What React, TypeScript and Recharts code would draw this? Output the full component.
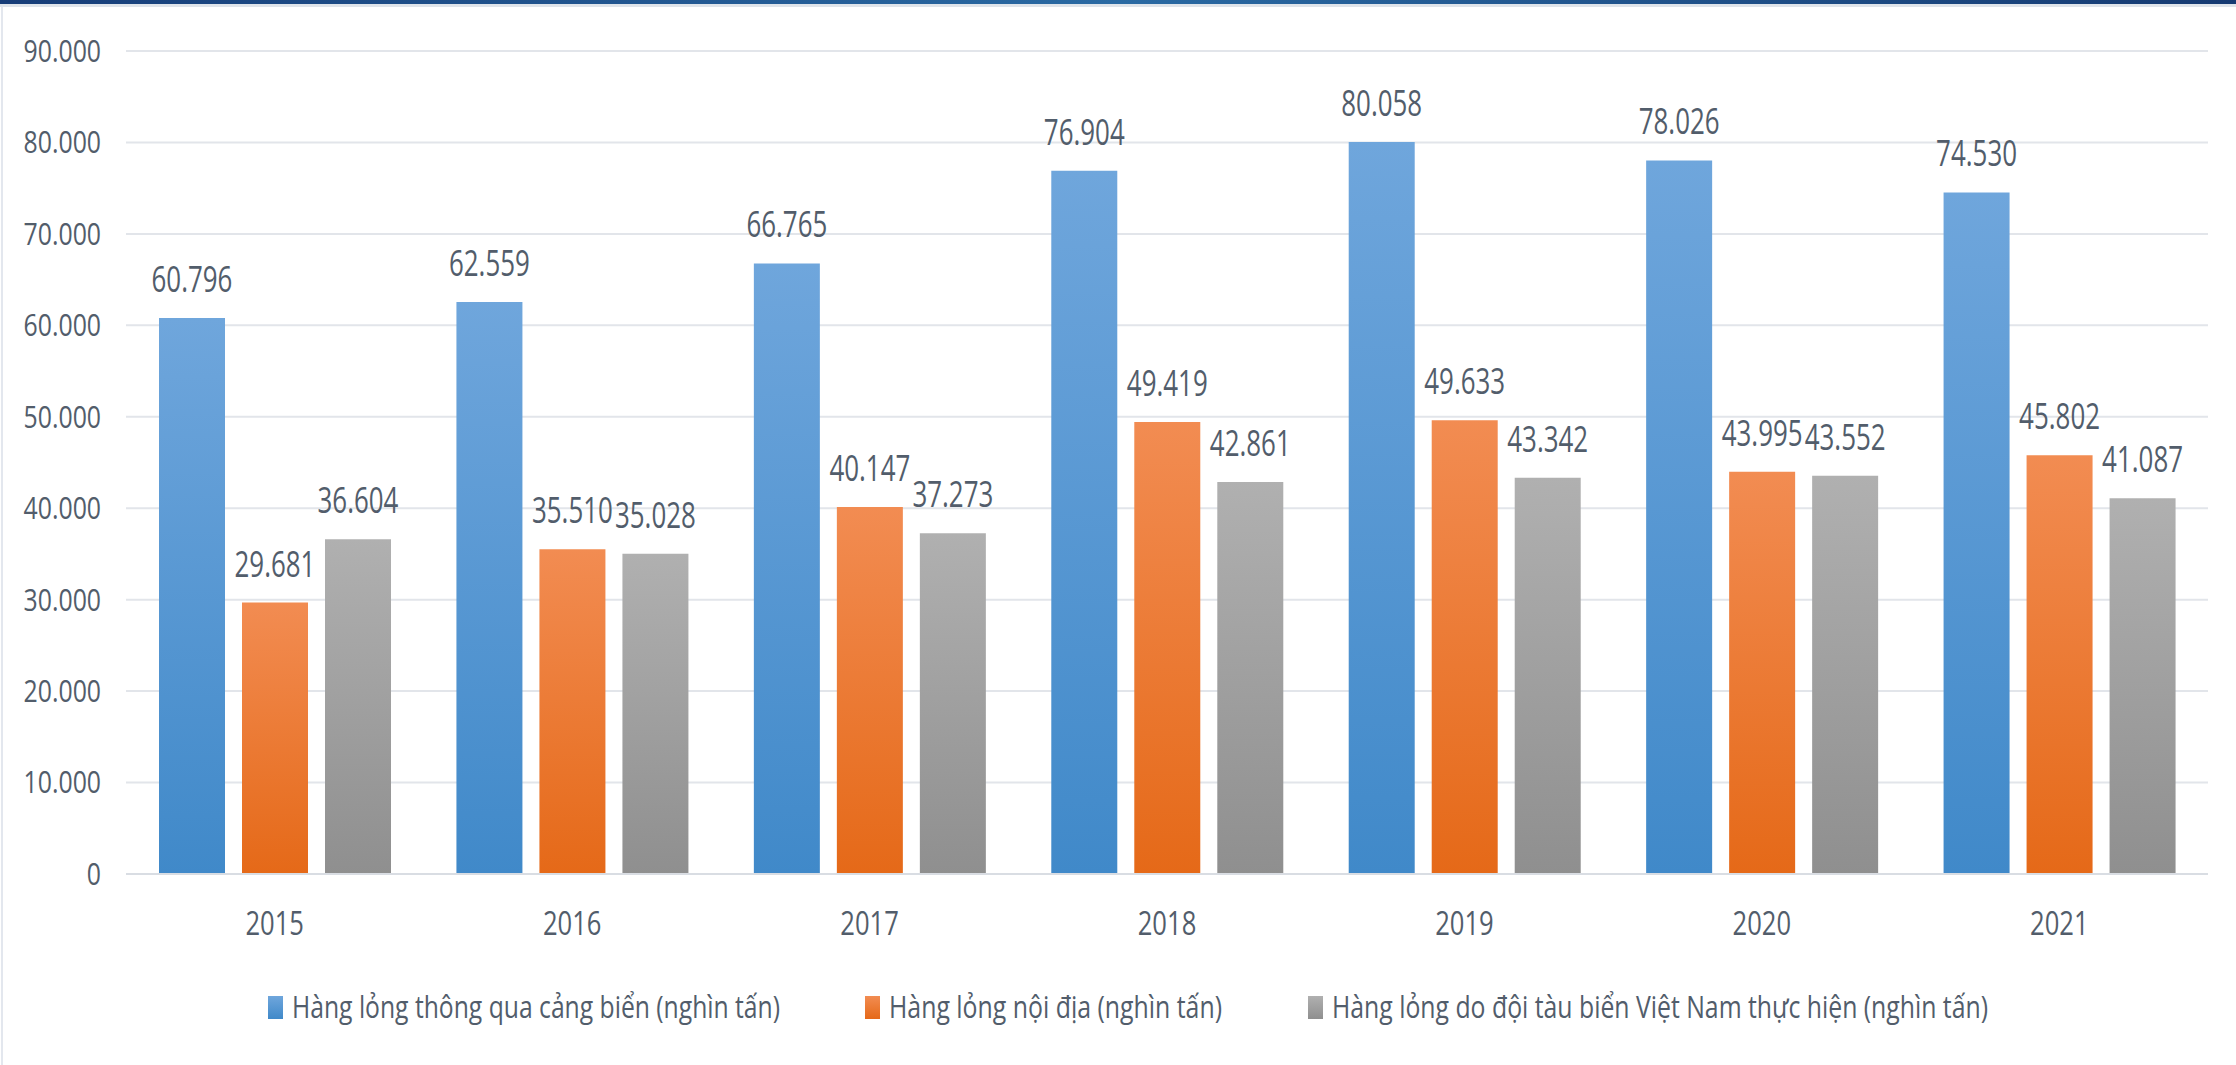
import React from 'react';
import { BarChart, Bar, XAxis, YAxis, CartesianGrid, LabelList } from 'recharts';

const years = ['2015', '2016', '2017', '2018', '2019', '2020', '2021'];
const quaCangBien = [60796, 62559, 66765, 76904, 80058, 78026, 74530];
const noiDia = [29681, 35510, 40147, 49419, 49633, 43995, 45802];
const doiTauVN = [36604, 35028, 37273, 42861, 43342, 43552, 41087];
const yTicks = [0, 10000, 20000, 30000, 40000, 50000, 60000, 70000, 80000, 90000];

const series = [
  { key: 'quaCangBien', name: 'Hàng lỏng thông qua cảng biển (nghìn tấn)', top: '#6fa6dc', bottom: '#4089c9', legendX: 268, textLen: 488 },
  { key: 'noiDia', name: 'Hàng lỏng nội địa (nghìn tấn)', top: '#f28c52', bottom: '#e56918', legendX: 865, textLen: 333 },
  { key: 'doiTauVN', name: 'Hàng lỏng do đội tàu biển Việt Nam thực hiện (nghìn tấn)', top: '#b0b0b0', bottom: '#8f8f8f', legendX: 1308, textLen: 656 },
];

const data = years.map((year, i) => ({
  year,
  quaCangBien: quaCangBien[i],
  noiDia: noiDia[i],
  doiTauVN: doiTauVN[i],
}));

const FONT = '"Open Sans", "Noto Sans", sans-serif';
const TEXT = '#525d6b';

// 60796 -> "60.796"
const fmt = (v: any) => String(Math.round(Number(v))).replace(/\B(?=(\d{3})+(?!\d))/g, '.');

// the source font is a narrow one, so squeeze horizontally
function NarrowText({ x, y, anchor = 'middle', dy = '0', size = 31, sx = 0.8, children }: any) {
  return (
    <text
      transform={`translate(${x},${y}) scale(${sx},1)`}
      textAnchor={anchor}
      dy={dy}
      fill={TEXT}
      fontSize={size}
      fontFamily={FONT}
    >
      {children}
    </text>
  );
}

const YTick = ({ x, y, payload }: any) => (
  <NarrowText x={x} y={y} anchor="end" dy="0.35em">{fmt(payload.value)}</NarrowText>
);

const XTick = ({ x, y, payload }: any) => (
  <NarrowText x={x} y={y} anchor="middle" dy="0.71em" size={32}>{payload.value}</NarrowText>
);

const TopLabel = ({ x, y, width, value }: any) => (
  <NarrowText x={Number(x) + Number(width) / 2} y={Number(y) - 26} anchor="middle" size={36} sx={0.72}>{fmt(value)}</NarrowText>
);

export default function App() {
  return (
    <div style={{ position: 'absolute', left: 0, top: 0, width: 2236, height: 1065, background: '#fff', fontFamily: FONT, overflow: 'hidden' }}>
      <div style={{ position: 'absolute', left: 0, top: 0, width: 2236, height: 4, background: 'linear-gradient(90deg, #173d78 0%, #2a6aa3 50%, #163a72 100%)' }} />
      <div style={{ position: 'absolute', left: 0, top: 4, width: 2236, height: 3, background: '#dfe4ea' }} />
      <div style={{ position: 'absolute', left: 1, top: 7, width: 2, height: 1058, background: '#e3e7ee' }} />

      <BarChart
        width={2236}
        height={1065}
        data={data}
        margin={{ top: 51, right: 28, left: 0, bottom: 131 }}
        barSize={66}
        barGap={17}
        style={{ position: 'absolute', left: 0, top: 0 }}
      >
        <defs>
          {series.map((s) => (
            <linearGradient key={s.key} id={`grad-${s.key}`} x1="0" y1="0" x2="0" y2="1">
              <stop offset="0%" stopColor={s.top} />
              <stop offset="100%" stopColor={s.bottom} />
            </linearGradient>
          ))}
        </defs>
        <CartesianGrid vertical={false} stroke="#e2e5ea" strokeWidth={2} />
        <XAxis
          dataKey="year"
          axisLine={{ stroke: '#d9dde3', strokeWidth: 2 }}
          tickLine={false}
          height={60}
          tickMargin={32}
          tick={<XTick />}
        />
        <YAxis
          domain={[0, 90000]}
          ticks={yTicks}
          width={126}
          axisLine={false}
          tickLine={false}
          tickMargin={19}
          tick={<YTick />}
        />
        {series.map((s) => (
          <Bar key={s.key} dataKey={s.key} name={s.name} fill={`url(#grad-${s.key})`} isAnimationActive={false}>
            <LabelList dataKey={s.key} content={<TopLabel />} />
          </Bar>
        ))}
      </BarChart>

      <svg width={2236} height={60} style={{ position: 'absolute', left: 0, top: 980 }}>
        <defs>
          {series.map((s) => (
            <linearGradient key={s.key} id={`lg-${s.key}`} x1="0" y1="0" x2="0" y2="1">
              <stop offset="0%" stopColor={s.top} />
              <stop offset="100%" stopColor={s.bottom} />
            </linearGradient>
          ))}
        </defs>
        {series.map((s) => (
          <g key={s.key}>
            <rect x={s.legendX} y={16} width={15} height={23} fill={`url(#lg-${s.key})`} />
            <text
              x={s.legendX + 24}
              y={38}
              fontSize={31}
              fontFamily={FONT}
              fill={TEXT}
              textLength={s.textLen}
              lengthAdjust="spacingAndGlyphs"
            >
              {s.name}
            </text>
          </g>
        ))}
      </svg>
    </div>
  );
}
